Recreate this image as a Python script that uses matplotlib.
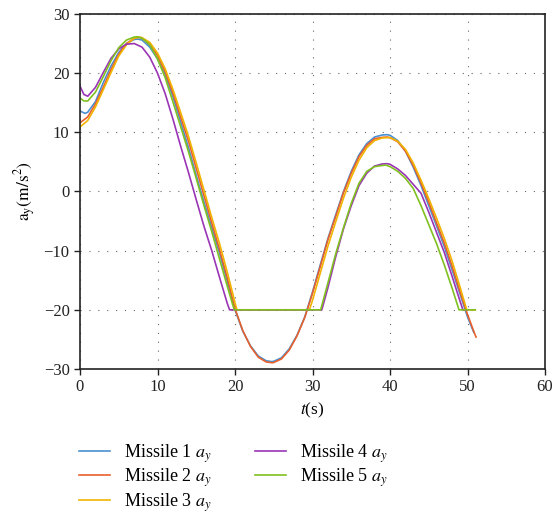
import matplotlib
matplotlib.use('Agg')
import matplotlib.pyplot as plt

plt.rcParams['font.family'] = ['Liberation Serif', 'DejaVu Serif']
plt.rcParams['mathtext.fontset'] = 'stix'

# Missile 1 a_y
t1 = [0, 0.65, 1, 2, 3, 4, 5, 6, 7, 7.5, 8, 9, 10, 11, 12, 13, 14, 15, 16, 17, 18, 19, 20,
      21, 22, 23, 24, 24.7, 25, 26, 27, 28, 29, 30, 31, 32, 33, 34, 35, 36, 37, 38, 39, 39.6,
      40, 41, 42, 43, 44, 45, 46, 47, 48, 49, 50, 50.8]
a1 = [13.6, 13.2, 13.4, 15.2, 18.4, 21.2, 23.5, 25.0, 25.7, 25.75, 25.6, 24.4, 22.4, 19.7, 16.0,
      11.7, 7.4, 2.7, -1.8, -6.1, -10.4, -15.2, -20.0,
      -23.6, -26.1, -27.8, -28.6, -28.75, -28.7, -28.1, -26.6, -24.3, -21.2, -17.0, -12.4, -7.9,
      -3.9, 0.0, 3.4, 6.2, 8.1, 9.2, 9.55, 9.6,
      9.5, 8.6, 6.8, 4.1, 1.0, -2.4, -5.8, -9.3, -13.2, -17.2, -21.2, -23.8]

# Missile 2 a_y
t2 = [0, 1, 2, 3, 4, 5, 6, 7, 7.6, 8, 9, 10, 11, 12, 13, 14, 15, 16, 17, 18, 19, 20,
      21, 22, 23, 24, 24.8, 25, 26, 27, 28, 29, 30, 31, 32, 33, 34, 35, 36, 37, 38, 39, 39.6,
      40, 41, 42, 43, 44, 45, 46, 47, 48, 49, 50, 51, 51.1]
a2 = [11.6, 12.6, 14.8, 17.6, 20.6, 23.2, 25.0, 25.9, 26.05, 25.9, 24.9, 23.0, 20.2, 16.6, 12.5,
      8.5, 3.9, -0.7, -5.3, -9.8, -14.6, -19.8,
      -23.5, -26.2, -28.0, -28.8, -28.95, -28.9, -28.3, -26.8, -24.4, -21.3, -17.2, -12.7, -8.1,
      -4.2, -0.2, 3.1, 5.9, 7.8, 8.9, 9.15, 9.2,
      9.1, 8.4, 6.8, 4.4, 1.4, -1.8, -5.3, -8.7, -12.6, -16.8, -20.8, -24.3, -24.6]

# Missile 3 a_y
t3 = [0, 1, 2, 3, 4, 5, 6, 7, 7.7, 8, 9, 10, 11, 12, 13, 14, 15, 16, 17, 18, 19, 20, 20.25,
      29.6, 30, 31, 32, 33, 34, 35, 36, 37, 38, 39, 39.7, 40, 41, 42, 43, 44, 45, 46, 47, 48,
      49, 49.9, 51.0]
a3 = [10.9, 12.0, 14.3, 17.2, 20.1, 22.9, 24.8, 25.9, 26.1, 26.0, 25.2, 23.4, 20.7, 17.2, 13.3,
      9.3, 4.8, 0.2, -4.4, -8.8, -13.6, -18.8, -20.0,
      -20.0, -18.4, -13.8, -9.2, -5.1, -1.1, 2.4, 5.3, 7.4, 8.6, 9.05, 9.1, 9.1, 8.5, 7.1, 4.8,
      1.9, -1.2, -4.5, -7.9, -11.7, -16.0, -20.0, -20.0]

# Missile 4 a_y
t4 = [0, 0.5, 1, 2, 3, 4, 5, 6, 7, 8, 9, 10, 11, 12, 13, 14, 15, 16, 17, 18, 19, 19.3,
      31.2, 32, 33, 34, 35, 36, 37, 38, 39, 39.6, 40, 41, 42, 43, 44, 45, 46, 47, 48, 49, 49.4,
      50]
a4 = [17.8, 16.4, 16.1, 17.6, 20.1, 22.5, 24.1, 24.9, 25.0, 24.4, 22.7, 20.0, 16.5, 12.2, 7.6,
      3.2, -1.4, -5.9, -10.0, -14.5, -18.9, -20.0,
      -20.0, -16.2, -11.0, -6.3, -2.4, 1.0, 3.1, 4.3, 4.65, 4.7, 4.6, 3.8, 2.7, 1.2, -0.3, -3.5,
      -6.9, -10.3, -14.3, -18.4, -20.0, -20.0]

# Missile 5 a_y
t5 = [0, 0.5, 1, 2, 3, 4, 5, 6, 7, 7.4, 8, 9, 10, 11, 12, 13, 14, 15, 16, 17, 18, 19, 19.9,
      31.05, 32, 33, 34, 35, 36, 37, 38, 39, 39.5, 40, 41, 42, 43, 44, 45, 46, 47, 48, 48.9,
      51.0]
a5 = [15.8, 15.3, 15.3, 16.8, 19.4, 22.1, 24.3, 25.6, 26.1, 26.15, 25.9, 24.8, 22.4, 19.2, 15.1,
      10.9, 6.7, 2.2, -2.4, -6.8, -11.4, -16.0, -20.0,
      -20.0, -15.4, -10.5, -6.1, -2.0, 1.4, 3.4, 4.2, 4.4, 4.45, 4.2, 3.4, 2.2, 0.5, -2.4, -5.6,
      -8.8, -12.4, -16.3, -20.0, -20.0]

series = [(t1, a1), (t2, a2), (t3, a3), (t4, a4), (t5, a5)]
labels = ['Missile 1 $a_y$', 'Missile 2 $a_y$', 'Missile 3 $a_y$',
          'Missile 4 $a_y$', 'Missile 5 $a_y$']
colors = ['#4a90d0', '#e8602c', '#f0b400', '#9a35b5', '#80c020']

fig = plt.figure(figsize=(5.54, 5.16), dpi=100)
ax = fig.add_axes([0.1444, 0.2849, 0.8394, 0.688])

for (t, a), lab, c in zip(series, labels, colors):
    ax.plot(t, a, color=c, lw=1.2, label=lab)

ax.set_xlim(0, 60)
ax.set_ylim(-30, 30)
ax.set_xticks(range(0, 61, 10))
ax.set_yticks(range(-30, 31, 10))
ax.grid(True, color='#666666', lw=0.8, linestyle=(0, (1, 7)))
for s in ax.spines.values():
    s.set_linewidth(1.2)
    s.set_color('#222222')
ax.tick_params(direction='out', length=4, width=1, labelsize=12, colors='#222222')
ax.set_xlabel('$t$(s)', fontsize=12.5, labelpad=4)
ax.set_ylabel(r'$\mathrm{a_y(m/s^2)}$', fontsize=12.5, labelpad=4)

fig.legend(loc='upper left', bbox_to_anchor=(0.142, 0.143), ncol=2, frameon=False,
           fontsize=13, handlelength=1.75, handletextpad=0.75, columnspacing=2.4,
           labelspacing=0.1, borderpad=0, borderaxespad=0)

fig.savefig('out.png', dpi=100)
